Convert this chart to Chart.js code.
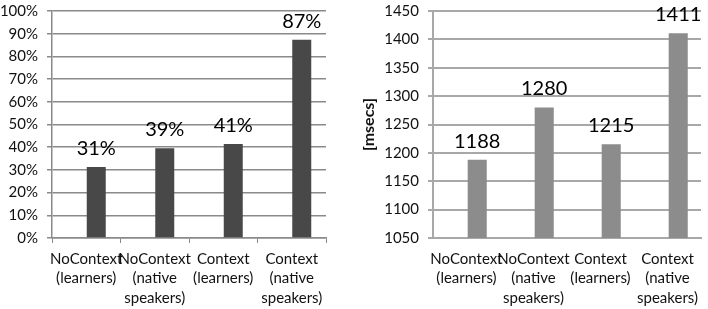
<!DOCTYPE html>
<html>
<head>
<meta charset="utf-8">
<script src="https://cdn.jsdelivr.net/npm/chart.js@4"></script>
<style>
  body { margin: 0; background: #fff; }
  #wrap { position: relative; width: 708px; height: 309px; }
  canvas { position: absolute; top: 0; }
</style>
</head>
<body>
<div id="wrap">
  <canvas id="accuracy" width="330" height="309" style="left:0"></canvas>
  <canvas id="latency" width="354" height="309" style="left:354px"></canvas>
</div>
<script>
const categories = [
  ['NoContext', '(learners)'],
  ['NoContext', '(native', 'speakers)'],
  ['Context', '(learners)'],
  ['Context', '(native', 'speakers)']
]
const accuracyValues = [31.3, 39.5, 41.4, 87.3]
const accuracyLabels = ['31%', '39%', '41%', '87%']
const accuracyTicks = [0, 10, 20, 30, 40, 50, 60, 70, 80, 90, 100]
const latencyValues = [1188, 1280, 1215, 1411]
const latencyLabels = ['1188', '1280', '1215', '1411']
const latencyTicks = [1050, 1100, 1150, 1200, 1250, 1300, 1350, 1400, 1450]

const FONT = 'Lato, "Liberation Sans", sans-serif'

// writes the value above each bar of the real dataset (index 1)
const barValues = {
  id: 'barValues',
  afterDatasetsDraw(chart, args, opts) {
    const ctx = chart.ctx
    const meta = chart.getDatasetMeta(1)
    ctx.save()
    ctx.font = '20px ' + FONT
    ctx.fillStyle = '#000'
    ctx.textAlign = 'center'
    ctx.textBaseline = 'alphabetic'
    meta.data.forEach((bar, i) => {
      ctx.fillText(opts.labels[i], bar.x, bar.y - 12)
    })
    ctx.restore()
  }
}

function makeChart(id, values, labels, ticks, cfg) {
  return new Chart(document.getElementById(id), {
    type: 'bar',
    data: {
      labels: categories,
      datasets: [
        // empty slot so the bar sits right of the category centre
        { data: values.map(() => null) },
        {
          data: values,
          backgroundColor: cfg.barColor,
          borderWidth: 0
        }
      ]
    },
    plugins: [barValues],
    options: {
      responsive: false,
      animation: false,
      events: [],
      categoryPercentage: cfg.catPct,
      barPercentage: cfg.barPct,
      layout: { padding: { top: 11, right: cfg.padRight, left: 0, bottom: 0 } },
      plugins: {
        legend: { display: false },
        tooltip: { enabled: false },
        barValues: { labels: labels }
      },
      scales: {
        x: {
          grid: {
            display: true,
            drawOnChartArea: false,
            drawTicks: cfg.xTicks,
            tickLength: 5,
            color: cfg.gridColor,
            lineWidth: 1
          },
          border: { color: cfg.gridColor, width: cfg.gridWidth },
          ticks: {
            autoSkip: false,
            maxRotation: 0,
            padding: cfg.xTicks ? 6 : 11,
            color: '#111',
            font: { family: FONT, size: 15, lineHeight: 1.3 }
          },
          afterFit(scale) {
            scale.height = 71
            scale.paddingLeft = 0
            scale.paddingRight = 0
          }
        },
        y: {
          min: ticks[0],
          max: ticks[ticks.length - 1],
          afterBuildTicks(scale) { scale.ticks = ticks.map(v => ({ value: v })) },
          grid: {
            color: cfg.gridColor,
            lineWidth: cfg.gridWidth,
            tickLength: 5
          },
          border: { color: cfg.gridColor, width: cfg.gridWidth },
          ticks: {
            padding: 9,
            color: '#111',
            font: { family: FONT, size: 15 },
            callback: cfg.tickFormat
          },
          title: cfg.title,
          afterFit(scale) {
            scale.width = cfg.yWidth
            scale.paddingTop = 0
            scale.paddingBottom = 0
          }
        }
      }
    }
  })
}

makeChart('accuracy', accuracyValues, accuracyLabels, accuracyTicks, {
  barColor: '#484848',
  gridColor: '#8a8a8a',
  gridWidth: 1.5,
  catPct: 0.584,
  barPct: 0.95,
  padRight: 4,
  yWidth: 52,
  xTicks: true,
  tickFormat: v => v + '%',
  title: { display: false }
})

makeChart('latency', latencyValues, latencyLabels, latencyTicks, {
  barColor: '#8c8c8c',
  gridColor: '#a8a8a8',
  gridWidth: 2,
  catPct: 0.64,
  barPct: 0.89,
  padRight: 7,
  yWidth: 79,
  xTicks: false,
  tickFormat: v => v,
  title: {
    display: true,
    text: '[msecs]',
    color: '#111',
    padding: { top: 5, bottom: 0 },
    font: { family: FONT, size: 16, weight: 'bold' }
  }
})
</script>
</body>
</html>
